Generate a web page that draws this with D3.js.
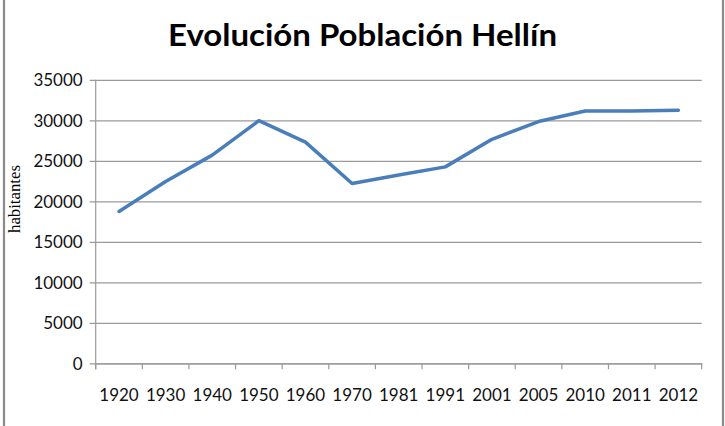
<!DOCTYPE html>
<html>
<head>
<meta charset="utf-8">
<script src="https://cdn.jsdelivr.net/npm/d3@7"></script>
<style>
html,body{margin:0;padding:0;background:#fff;overflow:hidden;}
svg{display:block;}
</style>
</head>
<body>
<svg id="chart" width="725" height="426"></svg>
<script>
const categories = ["1920","1930","1940","1950","1960","1970","1981","1991","2001","2005","2010","2011","2012"];
const poblacion = [18750, 22450, 25700, 29950, 27300, 22200, 23250, 24250, 27650, 29850, 31150, 31150, 31250];
const yTicks = [0, 5000, 10000, 15000, 20000, 25000, 30000, 35000];
const title = "Evolución Población Hellín";
const yTitle = "habitantes";

const svg = d3.select("#chart");
const W = 725, H = 426;
const mLeft = 95.7, mRight = 701.7, mTop = 79.8, mBottom = 363.3;

svg.append("rect").attr("width", W).attr("height", H).attr("fill", "#fff");
// frame sides
svg.append("line").attr("x1", 4).attr("x2", 4).attr("y1", 0).attr("y2", H).attr("stroke", "#8a8a8a").attr("stroke-width", 2.2);
svg.append("line").attr("x1", 723).attr("x2", 723).attr("y1", 0).attr("y2", H).attr("stroke", "#8a8a8a").attr("stroke-width", 2.2);

const x = d3.scaleBand().domain(categories).range([mLeft, mRight]).padding(0);
const y = d3.scaleLinear().domain([0, 35000]).range([mBottom, mTop]);

// gridlines + y labels
const yAxis = d3.axisLeft(y).tickValues(yTicks).tickSize(-(mRight - mLeft)).tickPadding(13).tickFormat(d3.format("d"));
const gy = svg.append("g").attr("transform", `translate(${mLeft},0)`).call(yAxis);
gy.select(".domain").remove();
gy.selectAll(".tick line").attr("stroke", "#9a9a9a").attr("stroke-width", 1.2).attr("x1", -6);
gy.selectAll(".tick text").attr("font-family", "Lato, 'Open Sans', sans-serif").attr("font-size", 17).attr("fill", "#111").attr("dy", "0.36em");

// y axis line
svg.append("line").attr("x1", mLeft).attr("x2", mLeft).attr("y1", mTop).attr("y2", mBottom + 6).attr("stroke", "#9a9a9a").attr("stroke-width", 1.2);

// x axis labels
const xAxis = d3.axisBottom(x).tickSize(0).tickPadding(26);
const gx = svg.append("g").attr("transform", `translate(0,${mBottom})`).call(xAxis);
gx.select(".domain").attr("stroke", "#9a9a9a").attr("stroke-width", 1.2);
gx.selectAll(".tick text").attr("font-family", "Lato, 'Open Sans', sans-serif").attr("font-size", 17).attr("fill", "#111");

// boundary tick marks
const bounds = categories.map(c => x(c)).concat([x(categories[categories.length - 1]) + x.bandwidth()]);
svg.append("g").selectAll("line").data(bounds).join("line")
  .attr("x1", d => d).attr("x2", d => d).attr("y1", mBottom).attr("y2", mBottom + 6)
  .attr("stroke", "#9a9a9a").attr("stroke-width", 1.2);

// line
const line = d3.line().x((d, i) => x(categories[i]) + x.bandwidth() / 2).y(d => y(d));
svg.append("path").datum(poblacion).attr("d", line)
  .attr("fill", "none").attr("stroke", "#4a7ebb").attr("stroke-width", 3.5)
  .attr("stroke-linejoin", "round").attr("stroke-linecap", "round");

// title
svg.append("text").attr("x", 362.5).attr("y", 46).attr("text-anchor", "middle")
  .attr("font-family", "Lato, sans-serif").attr("font-weight", "bold").attr("font-size", 31)
  .attr("textLength", 389).attr("lengthAdjust", "spacingAndGlyphs")
  .attr("fill", "#000").text(title);

// y title
svg.append("text").attr("transform", "translate(20,199) rotate(-90)").attr("text-anchor", "middle")
  .attr("font-family", "'Liberation Serif', 'Times New Roman', serif").attr("font-size", 16)
  .attr("textLength", 68).attr("lengthAdjust", "spacingAndGlyphs")
  .attr("fill", "#000").text(yTitle);
</script>
</body>
</html>
